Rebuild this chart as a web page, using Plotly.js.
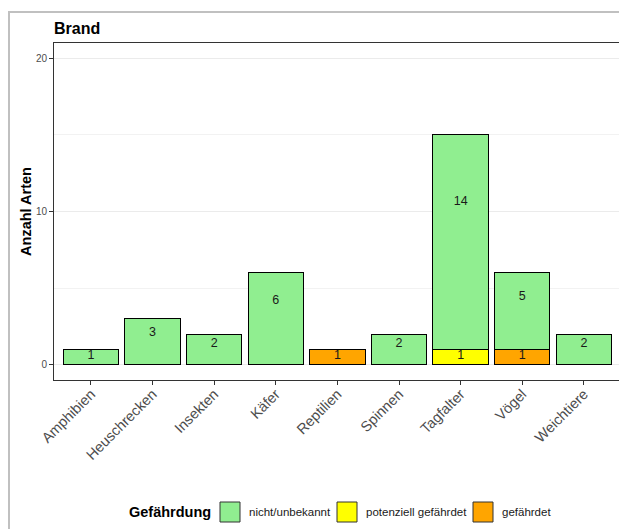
<!DOCTYPE html>
<html>
<head>
<meta charset="utf-8">
<script src="https://cdn.plot.ly/plotly-3.0.1.min.js"></script>
<style>html,body{margin:0;padding:0;background:#fff;overflow:hidden}</style>
</head>
<body>
<div id="chart" style="width:619px;height:529px"></div>
<script>
// ---- data ----
const categories = ["Amphibien","Heuschrecken","Insekten","Käfer","Reptilien","Spinnen","Tagfalter","Vögel","Weichtiere"];
const nichtUnbekannt = [1,3,2,6,0,2,14,5,2];
const potenziellGefaehrdet = [0,0,0,0,0,0,1,0,0];
const gefaehrdet = [0,0,0,0,1,0,0,1,0];
const seriesNames = ["nicht/unbekannt","potenziell gefährdet","gefährdet"];
const chartTitle = "Brand";
const yTitle = "Anzahl Arten";
const legendTitle = "Gefährdung";
const yTicks = [0,10,20];

// ---- styles ----
const FONT = "Liberation Sans, Arial, sans-serif";
const colors = ["#90EE90", "#FFFF00", "#FFA500"];
const labelFrac = 0.69; // vertical label position within a segment

const W=619, H=529, L=54, R=0, T=43, B=149;
const pw = W-L-R, ph = H-T-B;
const px = x => (x-L)/pw;          // pixel -> paper x
const py = y => (T+ph-y)/ph;       // pixel -> paper y

const nz = a => a.map(v => v === 0 ? null : v);
function barTrace(vals, name, color){
  return {type:"bar", x:categories, y:nz(vals), name:name, width:0.9, showlegend:false,
    marker:{color:color, line:{color:"#000000", width:1}}, hoverinfo:"none"};
}
const traces = [
  barTrace(gefaehrdet, seriesNames[2], colors[2]),
  barTrace(potenziellGefaehrdet, seriesNames[1], colors[1]),
  barTrace(nichtUnbekannt, seriesNames[0], colors[0])
];
// labels
const lx=[], ly=[], lt=[];
categories.forEach((c,i)=>{
  let base = 0;
  [gefaehrdet, potenziellGefaehrdet, nichtUnbekannt].forEach(s=>{
    const v = s[i];
    if (v > 0){ lx.push(c); ly.push(base + v*labelFrac*(v===1?0.82:1)); lt.push(String(v)); }
    base += v;
  });
});
traces.push({type:"scatter", mode:"text", x:lx, y:ly, text:lt, showlegend:false, hoverinfo:"none",
  textposition:"middle center", textfont:{family:FONT, size:12.5, color:"#1a1a1a"}, cliponaxis:false});

// manual legend (ggplot-style keys)
const legY = 512;
const keyX = [220, 337, 473];
const shapes = [{type:"rect", xref:"paper", yref:"paper", layer:"below",
    x0:px(9), x1:1.2, y0:-1, y1:py(12), line:{color:"#c0c0c0", width:2}, fillcolor:"rgba(0,0,0,0)"}];
const annotations = [{xref:"paper", yref:"paper", x:px(127), y:py(legY), xanchor:"left", yanchor:"middle",
  text:"<b>"+legendTitle+"</b>", showarrow:false, font:{family:FONT, size:14.5, color:"#000"}}];
seriesNames.forEach((n,i)=>{
  shapes.push({type:"rect", xref:"paper", yref:"paper", x0:px(keyX[i]), x1:px(keyX[i]+20),
    y0:py(legY+10), y1:py(legY-10), fillcolor:colors[i], line:{color:"#333333", width:1}});
  annotations.push({xref:"paper", yref:"paper", x:px(keyX[i]+27), y:py(legY), xanchor:"left", yanchor:"middle",
    text:n, showarrow:false, font:{family:FONT, size:11.5, color:"#1a1a1a"}});
});

const layout = {
  width:W, height:H, margin:{l:L, r:R, t:T, b:B, pad:0},
  paper_bgcolor:"#ffffff", plot_bgcolor:"#ffffff",
  font:{family:FONT, color:"#000"},
  barmode:"stack", bargap:0.1, showlegend:false,
  title:{text:"<b>"+chartTitle+"</b>", x:0, xref:"paper", xanchor:"left", y:1-28/H, yref:"container", yanchor:"middle",
    font:{family:FONT, size:16, color:"#000"}},
  xaxis:{type:"category", range:[-0.6, 8.57], showline:true, mirror:true, linecolor:"#333333", linewidth:1,
    ticks:"outside", ticklen:4, tickcolor:"#333333", tickwidth:1, showgrid:false, zeroline:false,
    tickangle:-45, ticklabelstandoff:-5, tickfont:{family:FONT, size:14.5, color:"#4d4d4d"}, fixedrange:true},
  yaxis:{range:[-1,21], tickvals:yTicks, ticktext:yTicks.map(String), showline:true, mirror:false, linecolor:"#333333", linewidth:1,
    ticks:"outside", ticklen:4, tickcolor:"#333333", tickwidth:1, zeroline:false,
    showgrid:true, gridcolor:"#ebebeb", gridwidth:1,
    minor:{dtick:5, tick0:0, showgrid:true, gridcolor:"#f2f2f2", gridwidth:1, ticks:""},
    tickfont:{family:FONT, size:10, color:"#4d4d4d"},
    title:{text:"<b>"+yTitle+"</b>", font:{family:FONT, size:14.5, color:"#000"}, standoff:0}},
  shapes:shapes, annotations:annotations
};
Plotly.newPlot("chart", traces, layout, {displayModeBar:false, staticPlot:true});
</script>
</body>
</html>
